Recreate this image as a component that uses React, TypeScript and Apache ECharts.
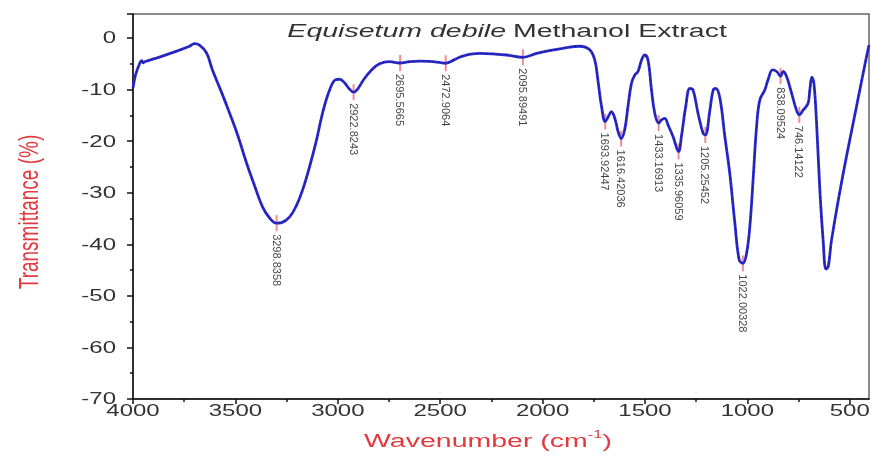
import React, { useEffect, useRef } from 'react';
import * as echarts from 'echarts';

const wavenumbers = [
  4000, 3988, 3968, 3958, 3950, 3944, 3871, 3797, 3724, 3700, 3675, 3641, 3612, 3568, 3529, 3489, 3446, 3406,
  3367, 3333, 3299, 3274, 3235, 3201, 3172, 3138, 3104, 3074, 3040, 3011, 2991, 2967, 2943, 2922, 2903, 2874,
  2835, 2796, 2747, 2698, 2649, 2600, 2552, 2503, 2473, 2430, 2390, 2307, 2240, 2175, 2096, 2029, 1960, 1901,
  1818, 1770, 1745, 1730, 1712, 1694, 1680, 1664, 1647, 1631, 1616, 1599, 1583, 1566, 1550, 1534, 1517, 1501,
  1485, 1468, 1452, 1433, 1419, 1403, 1387, 1363, 1336, 1322, 1301, 1281, 1265, 1241, 1216, 1205, 1183, 1167,
  1154, 1134, 1110, 1086, 1061, 1040, 1022, 1004, 988, 972, 955, 939, 915, 899, 877, 857, 838, 825, 808, 784,
  760, 746, 728, 704, 695, 685, 675, 662, 646, 630, 616, 605, 589, 535, 467, 418, 406,
];
const transmittance = [
  -9.7, -7.2, -5.0, -4.4, -4.8, -4.6, -3.7, -2.7, -1.6, -1.1, -1.4, -2.9, -6.2, -10.5, -14.5, -18.8, -24.2, -28.7,
  -32.8, -34.9, -35.9, -35.8, -34.7, -32.4, -29.5, -25.0, -19.8, -14.5, -10.1, -8.1, -8.0, -8.7, -9.9, -10.5, -9.9, -8.1,
  -6.2, -5.0, -4.6, -4.85, -4.6, -4.5, -4.55, -4.75, -4.9, -4.2, -3.5, -3.0, -3.1, -3.3, -3.75, -3.0, -2.4, -2.0,
  -1.6, -2.3, -4.3, -8.1, -13.3, -16.2, -15.3, -14.3, -15.6, -18.2, -19.5, -17.8, -13.3, -8.8, -7.2, -6.5, -4.3, -3.3,
  -4.3, -10.1, -14.6, -16.5, -15.9, -15.6, -16.9, -19.1, -22.0, -19.1, -13.3, -9.8, -10.1, -14.6, -18.5, -18.8, -14.0, -10.1,
  -9.8, -11.7, -19.1, -26.2, -35.9, -43.0, -43.7, -41.8, -36.6, -27.5, -17.2, -12.0, -10.1, -8.1, -6.2, -6.5, -7.4, -6.5, -7.5, -10.7,
  -14.0, -14.9, -14.0, -12.7, -10.1, -7.6, -8.8, -16.5, -29.5, -39.2, -44.8, -44.3, -39.2, -26.9, -13.3, -3.6, -1.4,
];

const peakWavenumbers = [3298.8358, 2922.8243, 2695.5665, 2472.9064, 2095.89491, 1693.92447, 1616.42036, 1433.16913, 1335.96059, 1205.25452, 1022.00328, 838.09524, 746.14122];
const peakValues = [-35.9, -10.5, -4.85, -4.9, -3.75, -16.2, -19.5, -16.5, -22.0, -18.8, -43.7, -7.4, -14.9];
const peakLabels = ['3298.8358', '2922.8243', '2695.5665', '2472.9064', '2095.89491', '1693.92447', '1616.42036', '1433.16913', '1335.96059', '1205.25452', '1022.00328', '838.09524', '746.14122'];

const xTicks = [4000, 3500, 3000, 2500, 2000, 1500, 1000, 500];
const xMinorTicks = [3750, 3250, 2750, 2250, 1750, 1250, 750];
const yTicks = [0, -10, -20, -30, -40, -50, -60, -70];

const FONT = 'Liberation Sans, Arial, sans-serif';
const RED = '#e23a3f';

export default function App() {
  const ref = useRef<HTMLDivElement>(null);
  useEffect(() => {
    const chart = echarts.init(ref.current!, null, { renderer: 'svg' });
    const spectrum = wavenumbers.map((w, i) => [w, transmittance[i]]);
    const peaks = peakWavenumbers.map((w, i) => [w, peakValues[i]]);
    const xBase = {
      type: 'value',
      min: 406,
      max: 4000,
      inverse: true,
      position: 'bottom',
      splitLine: { show: false },
      axisLabel: { show: false },
    };
    chart.setOption({
      animation: false,
      grid: { left: 133, right: 2, top: 14, bottom: 62, show: true, borderColor: '#666', borderWidth: 1.5, backgroundColor: 'transparent' },
      xAxis: [
        {
          ...xBase,
          axisLine: { show: true, onZero: false, lineStyle: { color: '#111', width: 1.5 } },
          axisTick: { show: true, length: 5, customValues: xTicks, lineStyle: { color: '#111', width: 1.5 } },
        },
        {
          ...xBase,
          axisLine: { show: false, onZero: false },
          axisTick: { show: true, length: 3, customValues: xMinorTicks, lineStyle: { color: '#111', width: 1.5 } },
        },
      ],
      yAxis: {
        type: 'value',
        min: -70,
        max: 4.65,
        interval: 10,
        splitLine: { show: false },
        axisLine: { show: true, onZero: false, lineStyle: { color: '#111', width: 1.5 } },
        axisTick: { show: true, length: 6, lineStyle: { color: '#111', width: 1.5 } },
        minorTick: { show: true, splitNumber: 2, length: 3, lineStyle: { color: '#111', width: 1.5 } },
        axisLabel: { show: false },
      },
      series: [
        {
          type: 'scatter',
          data: peaks,
          symbol: 'rect',
          symbolSize: [2, 16],
          itemStyle: { color: '#ec6f78' },
          z: 1,
          label: {
            show: true,
            position: 'bottom',
            distance: 3,
            rotate: -90,
            align: 'left',
            verticalAlign: 'middle',
            formatter: (p: any) => peakLabels[p.dataIndex],
            fontSize: 11,
            fontFamily: 'Liberation Sans Narrow, Arial Narrow, Liberation Sans, sans-serif',
            color: '#111',
          },
        },
        {
          type: 'line',
          data: spectrum,
          smooth: 0.4,
          showSymbol: false,
          lineStyle: { color: '#2b2bd2', width: 2.8 },
          z: 2,
        },
        {
          type: 'line',
          data: spectrum,
          smooth: 0.4,
          showSymbol: false,
          lineStyle: { color: '#14144a', width: 0.8, type: [3, 2], opacity: 0.7 },
          z: 3,
        },
      ],
    });

    const texts: any[] = [];
    xTicks.forEach((v) => {
      const px = chart.convertToPixel({ xAxisIndex: 0 }, v) as number;
      texts.push({
        type: 'text', x: px, y: 403, scaleX: 1.5,
        style: { text: String(v), align: 'center', verticalAlign: 'top', fontSize: 16, fontFamily: FONT, fill: '#333' },
      });
    });
    yTicks.forEach((v) => {
      const py = chart.convertToPixel({ yAxisIndex: 0 }, v) as number;
      texts.push({
        type: 'text', x: 116, y: py, scaleX: 1.5,
        style: { text: String(v), align: 'right', verticalAlign: 'middle', fontSize: 16, fontFamily: FONT, fill: '#333' },
      });
    });
    texts.push({
      type: 'text', x: 506, y: 30, scaleX: 1.5,
      style: { text: 'Equisetum debile', align: 'right', verticalAlign: 'middle', fontSize: 19, fontStyle: 'italic', fontFamily: FONT, fill: '#333' },
    });
    texts.push({
      type: 'text', x: 513, y: 30, scaleX: 1.5,
      style: { text: 'Methanol Extract', align: 'left', verticalAlign: 'middle', fontSize: 19, fontFamily: FONT, fill: '#333' },
    });
    texts.push({
      type: 'text', x: 488, y: 440, scaleX: 1.5,
      style: {
        text: '{n|Wavenumber (cm}{s|-1}{n|)}',
        align: 'center', verticalAlign: 'middle', fontSize: 19, fontFamily: FONT, fill: RED,
        rich: {
          n: { fontSize: 19, fontFamily: FONT, fill: RED, color: RED, lineHeight: 22 },
          s: { fontSize: 11, fontFamily: FONT, fill: RED, color: RED, verticalAlign: 'top', lineHeight: 22 },
        },
      },
    });
    texts.push({
      type: 'text', x: 28, y: 212, rotation: Math.PI / 2, scaleY: 1.5,
      style: { text: 'Transmittance (%)', align: 'center', verticalAlign: 'middle', fontSize: 19, fontFamily: FONT, fill: RED },
    });
    chart.setOption({ graphic: texts });

    return () => chart.dispose();
  }, []);
  return <div ref={ref} style={{ position: 'fixed', left: 0, top: 0, width: 871, height: 461 }} />;
}
